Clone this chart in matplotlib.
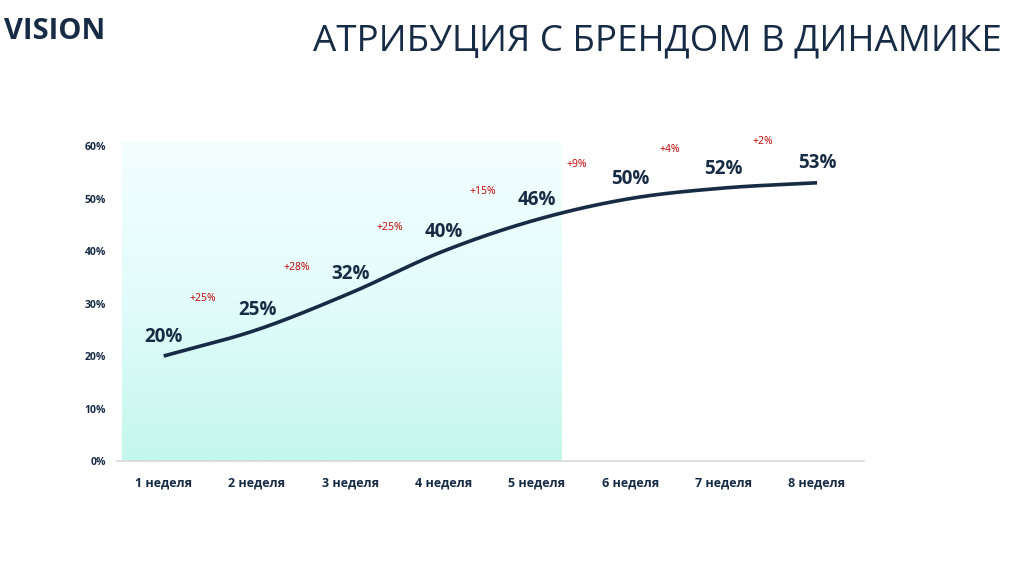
import numpy as np
import matplotlib
matplotlib.use("Agg")
import matplotlib.pyplot as plt
from matplotlib.colors import LinearSegmentedColormap

plt.rcParams['font.family'] = ['Open Sans', 'DejaVu Sans']

weeks = ["1 неделя", "2 неделя", "3 неделя", "4 неделя", "5 неделя", "6 неделя", "7 неделя", "8 неделя"]
values = [20, 25, 32, 40, 46, 50, 52, 53]
growth = ["+25%", "+28%", "+25%", "+15%", "+9%", "+4%", "+2%"]
yticks = [0, 10, 20, 30, 40, 50, 60]
title = "АТРИБУЦИЯ С БРЕНДОМ В ДИНАМИКЕ"
logo = "VISION"

NAVY = "#172b45"
RED = "#c00000"

fig = plt.figure(figsize=(10.09, 5.66), dpi=100)
ax = fig.add_axes([0.116, 0.1855, 0.740, 0.5565])
x = np.arange(len(values))
ax.set_xlim(-0.5, len(values) - 0.5)
ax.set_ylim(0, 60)

# gradient shaded region (weeks 1-5)
cmap = LinearSegmentedColormap.from_list("g", ["#c4f7ec", "#e2fcfb", "#f4feff"])
grad = np.linspace(0, 1, 256).reshape(-1, 1)
ax.imshow(grad, extent=[-0.45, 4.26, 0, 60.6], origin="lower", aspect="auto",
          cmap=cmap, zorder=0, clip_on=False)

# smooth line (Catmull-Rom style drawing through the data points)
def smooth(xs, ys, n=40):
    xs = np.asarray(xs, float); ys = np.asarray(ys, float)
    px = np.concatenate([[2*xs[0]-xs[1]], xs, [2*xs[-1]-xs[-2]]])
    py = np.concatenate([[2*ys[0]-ys[1]], ys, [2*ys[-1]-ys[-2]]])
    ox, oy = [], []
    for i in range(1, len(px) - 2):
        t = np.linspace(0, 1, n, endpoint=False)
        for arr, out in ((px, ox), (py, oy)):
            p0, p1, p2, p3 = arr[i-1], arr[i], arr[i+1], arr[i+2]
            out.extend(0.5*((2*p1) + (-p0+p2)*t + (2*p0-5*p1+4*p2-p3)*t**2 + (-p0+3*p1-3*p2+p3)*t**3))
    ox.append(xs[-1]); oy.append(ys[-1])
    return np.array(ox), np.array(oy)

sx, sy = smooth(x, values)
ax.plot(sx, sy, color=NAVY, lw=2.6, solid_capstyle="butt", zorder=3)

for xi, v in zip(x, values):
    ax.text(xi, v + 1.8, f"{v}%", ha="center", va="bottom", fontsize=13.5,
            fontweight="bold", color=NAVY, zorder=4)

for i, g in enumerate(growth):
    yv = (values[i] + values[i+1]) / 2 + 8.4
    ax.text(i + 0.42, yv, g, ha="center", va="center", fontsize=7.5, color=RED, zorder=4)

ax.set_xticks(x)
ax.set_xticklabels(weeks, fontsize=9, fontweight="bold", color=NAVY)
ax.set_yticks(yticks)
ax.set_yticklabels([f"{t}%" for t in yticks], fontsize=7.5, fontweight="bold", color=NAVY)
ax.tick_params(axis="both", length=0)
ax.tick_params(axis="x", pad=11)
ax.tick_params(axis="y", pad=8)
for s in ["left", "right", "top"]:
    ax.spines[s].set_visible(False)
ax.spines["bottom"].set_color("#d9d9d9")
ax.spines["bottom"].set_linewidth(1.2)
ax.patch.set_alpha(0)

fig.text(0.993, 0.926, title, ha="right", va="center", fontsize=26.5, color=NAVY, fontweight="normal")
fig.text(0.004, 0.944, logo, ha="left", va="center", fontsize=21, color=NAVY, fontweight="bold")

fig.savefig("out.png", dpi=100)
